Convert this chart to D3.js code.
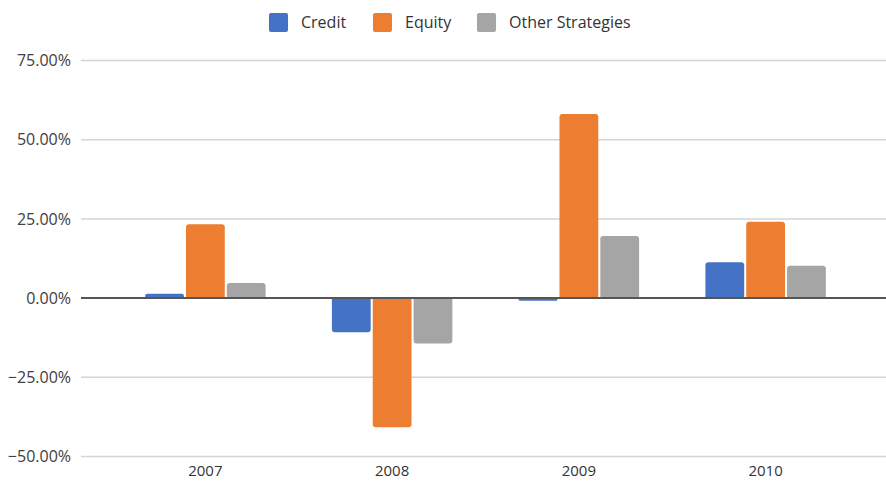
<!DOCTYPE html>
<html>
<head>
<meta charset="utf-8">
<script src="https://cdn.jsdelivr.net/npm/d3@7"></script>
<style>
  html, body { margin: 0; padding: 0; background: #fff; }
  svg { display: block; font-family: "Open Sans", "Noto Sans", sans-serif; }
</style>
</head>
<body>
<svg id="chart" width="886" height="482"></svg>
<script>
const years = ['2007', '2008', '2009', '2010'];
const seriesNames = ['Credit', 'Equity', 'Other Strategies'];
const credit = [0.014, -0.108, -0.008, 0.113];
const equity = [0.233, -0.408, 0.581, 0.241];
const otherStrategies = [0.048, -0.143, 0.196, 0.102];
const yTicks = [-0.5, -0.25, 0, 0.25, 0.5, 0.75];
const colors = ['#4472C4', '#ED7D31', '#A5A5A5'];

const seriesValues = [credit, equity, otherStrategies];

const svg = d3.select('#chart');
const width = 886;
const height = 482;

const plotLeft = 81;
const plotRight = width;

const y = d3.scaleLinear().domain([-0.5, 0.75]).range([456.5, 60.5]);

const x = d3.scaleBand().domain(years).range([112, 859]);

const xInner = d3
  .scaleBand()
  .domain(seriesNames)
  .range([0, x.bandwidth() * 0.645])
  .paddingInner(0.05);

const groupOffset = (x.bandwidth() - x.bandwidth() * 0.645) / 2;

//
// GRID LINES
//

svg
  .append('g')
  .selectAll('line')
  .data(yTicks.filter((t) => t !== 0))
  .join('line')
  .attr('x1', plotLeft)
  .attr('x2', plotRight)
  .attr('y1', (d) => y(d))
  .attr('y2', (d) => y(d))
  .attr('stroke', '#d4d4d4')
  .attr('stroke-width', 1.5);

//
// Y AXIS LABELS
//

const yAxis = svg
  .append('g')
  .attr('transform', `translate(${plotLeft},0)`)
  .call(
    d3
      .axisLeft(y)
      .tickValues(yTicks)
      .tickSize(0)
      .tickPadding(10)
      .tickFormat(d3.format('.2%')),
  );
yAxis.select('.domain').remove();
yAxis
  .selectAll('text')
  .attr('fill', '#404040')
  .attr('font-size', 16)
  .attr('font-family', '"Open Sans", sans-serif');

//
// BARS
//

const rows = years.map((yr, i) => ({
  year: yr,
  values: seriesNames.map((s, j) => ({ name: s, value: seriesValues[j][i], color: colors[j] })),
}));

const groups = svg
  .append('g')
  .selectAll('g')
  .data(rows)
  .join('g')
  .attr('transform', (d) => `translate(${x(d.year) + groupOffset},0)`);

groups
  .selectAll('path')
  .data((d) => d.values)
  .join('path')
  .attr('fill', (d) => d.color)
  .attr('d', (d) => {
    const x0 = xInner(d.name);
    const w = xInner.bandwidth();
    const y0 = y(0);
    const y1 = y(d.value);
    const r = Math.min(3, Math.abs(y1 - y0) / 2);
    const dir = y1 < y0 ? 1 : -1;
    return [
      `M${x0},${y0}`,
      `L${x0},${y1 + dir * r}`,
      `Q${x0},${y1} ${x0 + r},${y1}`,
      `L${x0 + w - r},${y1}`,
      `Q${x0 + w},${y1} ${x0 + w},${y1 + dir * r}`,
      `L${x0 + w},${y0}`,
      'Z',
    ].join(' ');
  });

//
// ZERO LINE
//

svg
  .append('line')
  .attr('x1', plotLeft)
  .attr('x2', plotRight)
  .attr('y1', y(0))
  .attr('y2', y(0))
  .attr('stroke', '#555')
  .attr('stroke-width', 2);

//
// X AXIS LABELS
//

const xAxis = svg
  .append('g')
  .attr('transform', `translate(0,${y(-0.5)})`)
  .call(d3.axisBottom(x).tickSize(0).tickPadding(9));
xAxis.select('.domain').remove();
xAxis
  .selectAll('text')
  .attr('fill', '#333')
  .attr('font-size', 15)
  .attr('font-family', '"Open Sans", sans-serif');

//
// LEGEND
//

const legendX = [269, 373, 477];
const legend = svg
  .append('g')
  .selectAll('g')
  .data(seriesNames)
  .join('g')
  .attr('transform', (d, i) => `translate(${legendX[i]},13)`);

legend
  .append('rect')
  .attr('width', 19)
  .attr('height', 19)
  .attr('rx', 2)
  .attr('fill', (d, i) => colors[i]);

legend
  .append('text')
  .attr('x', 32)
  .attr('y', 15)
  .attr('fill', '#333')
  .attr('font-size', 16)
  .attr('font-family', '"Open Sans", sans-serif')
  .text((d) => d);
</script>
</body>
</html>
